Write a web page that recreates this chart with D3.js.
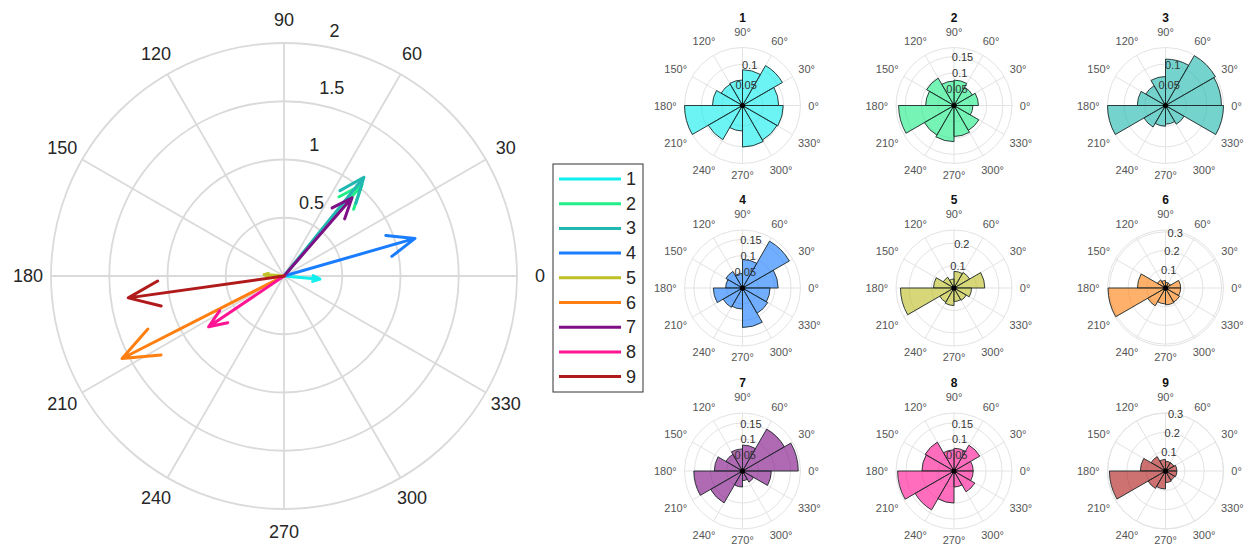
<!DOCTYPE html>
<html>
<head>
<meta charset="utf-8">
<script src="https://cdn.jsdelivr.net/npm/d3@7"></script>
<style>
  body { margin: 0; background: #fff; }
  svg { display: block; font-family: 'Liberation Sans', Arial, sans-serif; }
</style>
</head>
<body>
<div id="chart"></div>
<script>
// ---- data ----
const seriesNames = ['1', '2', '3', '4', '5', '6', '7', '8', '9'];
const seriesColors = ['#11eeee', '#22ee88', '#20b8b0', '#1a7dff', '#bfbf26', '#ff7f10', '#7f0f86', '#ff1493', '#b01a1a'];

// mean resultant vectors (left compass plot)
const arrowLength = [0.31, 1.03, 1.09, 1.17, 0.17, 1.56, 0.89, 0.78, 1.35];
const arrowAngle = [355, 49.5, 51, 16, 176, 207, 49, 214, 188];

const thetaTicks = [0, 30, 60, 90, 120, 150, 180, 210, 240, 270, 300, 330];
const bigRTicks = [0.5, 1, 1.5, 2];

// rose histograms, 12 bins of 30 deg starting at 0
const binStart = [0, 30, 60, 90, 120, 150, 180, 210, 240, 270, 300, 330];
const rose1 = [0.088, 0.112, 0.087, 0.062, 0.060, 0.073, 0.141, 0.096, 0.062, 0.101, 0.097, 0.099];
const rose2 = [0.075, 0.065, 0.078, 0.075, 0.097, 0.087, 0.170, 0.105, 0.111, 0.095, 0.088, 0.058];
const rose3 = [0.135, 0.139, 0.112, 0.070, 0.055, 0.068, 0.140, 0.060, 0.050, 0.045, 0.052, 0.140];
const rose4 = [0.110, 0.167, 0.088, 0.045, 0.059, 0.052, 0.090, 0.069, 0.065, 0.122, 0.090, 0.085];
const rose5 = [0.137, 0.080, 0.074, 0.040, 0.055, 0.091, 0.238, 0.073, 0.078, 0.060, 0.063, 0.078];
const rose6 = [0.081, 0.030, 0.030, 0.040, 0.050, 0.150, 0.307, 0.110, 0.085, 0.090, 0.087, 0.081];
const rose7 = [0.174, 0.151, 0.081, 0.069, 0.060, 0.088, 0.152, 0.115, 0.050, 0.030, 0.040, 0.090];
const rose8 = [0.060, 0.093, 0.071, 0.066, 0.104, 0.100, 0.176, 0.140, 0.100, 0.050, 0.075, 0.060];
const rose9 = [0.059, 0.050, 0.050, 0.060, 0.086, 0.130, 0.290, 0.104, 0.093, 0.060, 0.055, 0.059];
const roses = [rose1, rose2, rose3, rose4, rose5, rose6, rose7, rose8, rose9];
const roseRMax = [0.141, 0.178, 0.14, 0.179, 0.258, 0.31, 0.181, 0.181, 0.30];
const roseRTicks = [
  [0.05, 0.1], [0.05, 0.1, 0.15], [0.05, 0.1],
  [0.05, 0.1, 0.15], [0.1, 0.2], [0.1, 0.2, 0.3],
  [0.05, 0.1, 0.15], [0.05, 0.1, 0.15], [0.1, 0.2, 0.3]
];

// ---- layout ----
const W = 1249, H = 548;
const rad = d => d * Math.PI / 180;
// polar -> screen offset (theta counter-clockwise from east)
const px = (r, deg) => r * Math.cos(rad(deg));
const py = (r, deg) => -r * Math.sin(rad(deg));

const svg = d3.select('#chart').append('svg')
  .attr('width', W).attr('height', H)
  .style('background', '#fff');

// ---- big compass plot ----
const big = { cx: 284, cy: 276, R: 233 };
const rBig = d3.scaleLinear().domain([0, 2]).range([0, big.R]);
const gBig = svg.append('g').attr('transform', `translate(${big.cx},${big.cy})`);

gBig.selectAll('.spoke').data(thetaTicks).enter().append('line')
  .attr('x1', 0).attr('y1', 0)
  .attr('x2', d => px(big.R, d)).attr('y2', d => py(big.R, d))
  .attr('stroke', '#dadada').attr('stroke-width', 1.8);

gBig.selectAll('.ring').data(bigRTicks).enter().append('circle')
  .attr('r', d => rBig(d))
  .attr('fill', 'none').attr('stroke', '#dadada').attr('stroke-width', 1.8);

gBig.selectAll('.tlab').data(thetaTicks).enter().append('text')
  .attr('x', d => px(256, d)).attr('y', d => py(256, d))
  .attr('text-anchor', 'middle').attr('dominant-baseline', 'central')
  .attr('font-size', 18).attr('fill', '#262626')
  .text(d => d);

gBig.selectAll('.rlab').data(bigRTicks).enter().append('text')
  .attr('x', d => px(rBig(d), 80) + 5).attr('y', d => py(rBig(d), 80) - 16)
  .attr('dominant-baseline', 'central')
  .attr('font-size', 18).attr('fill', '#262626')
  .text(d => d);

// MATLAB compass style arrow: shaft plus two barbs
const arrowPath = (len, deg) => {
  const L = rBig(len);
  const c = Math.cos(rad(deg)), s = Math.sin(rad(deg));
  const pts = [[0, 0], [1, 0], [0.8, 0.08], [1, 0], [0.8, -0.08]].map(([a, b]) => {
    const x = a * L, y = b * L;
    return [x * c - y * s, -(x * s + y * c)];
  });
  return d3.line()(pts);
};

gBig.selectAll('.arrow').data(seriesNames).enter().append('path')
  .attr('d', (d, i) => arrowPath(arrowLength[i], arrowAngle[i]))
  .attr('fill', 'none')
  .attr('stroke', (d, i) => seriesColors[i])
  .attr('stroke-width', 3)
  .attr('stroke-linejoin', 'round')
  .attr('stroke-linecap', 'round');

// ---- legend ----
const leg = { x: 553, y: 164, w: 90, h: 228, y0: 179, step: 24.7 };
const gLeg = svg.append('g');
gLeg.append('rect')
  .attr('x', leg.x).attr('y', leg.y).attr('width', leg.w).attr('height', leg.h)
  .attr('fill', '#fff').attr('stroke', '#333').attr('stroke-width', 1);
const items = gLeg.selectAll('.item').data(seriesNames).enter().append('g')
  .attr('transform', (d, i) => `translate(0,${leg.y0 + i * leg.step})`);
items.append('line')
  .attr('x1', leg.x + 6).attr('x2', leg.x + 68)
  .attr('stroke', (d, i) => seriesColors[i]).attr('stroke-width', 3);
items.append('text')
  .attr('x', leg.x + 73).attr('dominant-baseline', 'central')
  .attr('font-size', 18).attr('fill', '#262626')
  .text(d => d);

// ---- small rose histograms ----
const colX = [742.5, 954, 1165.5];
const rowY = [105.5, 288, 471];
const rs = 58;

roses.forEach((vals, k) => {
  const cx = colX[k % 3], cy = rowY[Math.floor(k / 3)];
  const r = d3.scaleLinear().domain([0, roseRMax[k]]).range([0, rs]);
  const g = svg.append('g').attr('transform', `translate(${cx},${cy})`);

  g.selectAll('.ring').data(roseRTicks[k].concat([roseRMax[k]])).enter().append('circle')
    .attr('r', d => r(d))
    .attr('fill', 'none').attr('stroke', '#e3e3e3').attr('stroke-width', 1);
  g.selectAll('.spoke').data(thetaTicks).enter().append('line')
    .attr('x2', d => px(rs, d)).attr('y2', d => py(rs, d))
    .attr('stroke', '#e3e3e3').attr('stroke-width', 1);

  const arc = d3.arc().innerRadius(0);
  g.selectAll('.bin').data(vals).enter().append('path')
    .attr('d', (v, i) => arc({
      outerRadius: r(v),
      startAngle: Math.PI / 2 - rad(binStart[i] + 30),
      endAngle: Math.PI / 2 - rad(binStart[i])
    }))
    .attr('fill', seriesColors[k]).attr('fill-opacity', 0.62)
    .attr('stroke', '#1e2a2a').attr('stroke-width', 0.9);

  g.append('circle').attr('r', 2.6).attr('fill', '#000');

  g.selectAll('.rlab').data(roseRTicks[k]).enter().append('text')
    .attr('x', d => px(r(d), 80)).attr('y', d => py(r(d), 80))
    .attr('text-anchor', 'middle').attr('dominant-baseline', 'central')
    .attr('font-size', 11).attr('fill', '#333')
    .text(d => d);

  g.selectAll('.tlab').data(thetaTicks).enter().append('text')
    .attr('x', d => {
      const c = Math.cos(rad(d));
      const w = String(d).length * 6.1 + 4;
      return c * 66 + c * w / 2;
    })
    .attr('y', d => -Math.sin(rad(d)) * (d === 270 ? 69 : 74))
    .attr('text-anchor', 'middle').attr('dominant-baseline', 'central')
    .attr('font-size', 11).attr('fill', '#555')
    .text(d => d + '°');

  g.append('text')
    .attr('y', -88).attr('text-anchor', 'middle').attr('dominant-baseline', 'central')
    .attr('font-size', 12).attr('font-weight', 'bold').attr('fill', '#111')
    .text(seriesNames[k]);
});
</script>
</body>
</html>
